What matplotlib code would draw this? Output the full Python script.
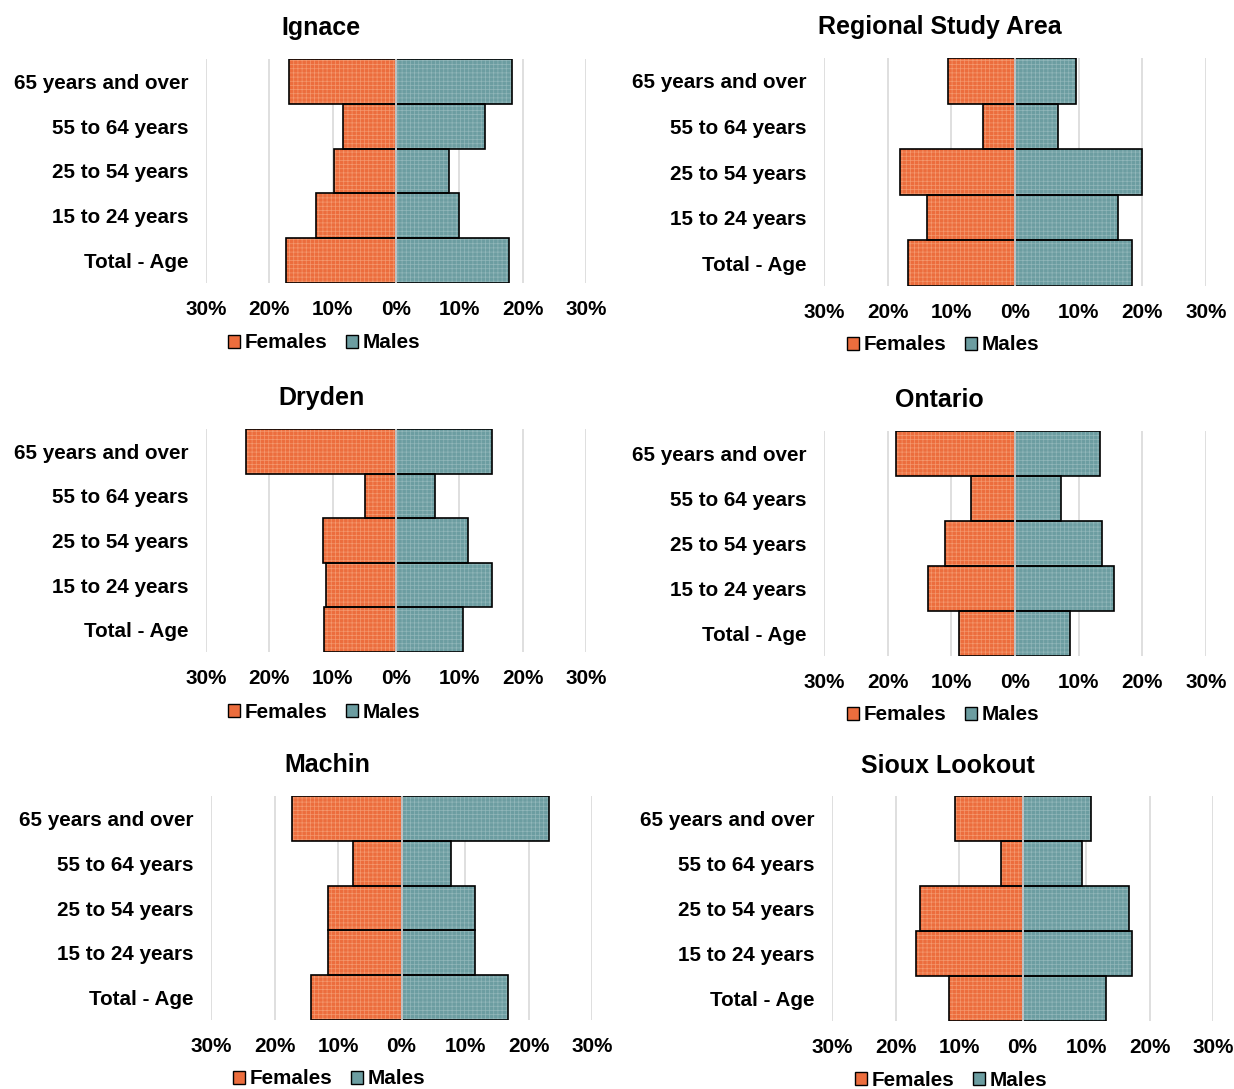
import matplotlib.pyplot as plt
from matplotlib.patches import Patch
from matplotlib.ticker import FuncFormatter

plt.rcParams["font.family"] = ["Liberation Sans", "DejaVu Sans"]
plt.rcParams["font.weight"] = "bold"
plt.rcParams["hatch.linewidth"] = 0.5

# Age groups, top to bottom
age_groups = ["65 years and over", "55 to 64 years", "25 to 54 years",
              "15 to 24 years", "Total - Age"]

ignace_f = [16.9, 8.4, 9.8, 12.7, 17.3]
ignace_m = [18.3, 14.1, 8.4, 9.9, 17.9]
regional_f = [10.6, 5.1, 18.0, 13.9, 16.8]
regional_m = [9.6, 6.7, 19.9, 16.2, 18.4]
dryden_f = [23.7, 4.9, 11.6, 11.0, 11.4]
dryden_m = [15.2, 6.1, 11.3, 15.2, 10.6]
ontario_f = [18.7, 6.9, 11.0, 13.6, 8.8]
ontario_m = [13.3, 7.3, 13.7, 15.6, 8.7]
machin_f = [17.3, 7.6, 11.5, 11.5, 14.2]
machin_m = [23.2, 7.8, 11.6, 11.6, 16.8]
sioux_f = [10.7, 3.4, 16.2, 16.7, 11.5]
sioux_m = [10.8, 9.4, 16.7, 17.2, 13.1]

titles = ["Ignace", "Regional Study Area", "Dryden", "Ontario", "Machin", "Sioux Lookout"]
females = [ignace_f, regional_f, dryden_f, ontario_f, machin_f, sioux_f]
males = [ignace_m, regional_m, dryden_m, ontario_m, machin_m, sioux_m]

# Panel placement in pixels: axes x0, x1, y0, y1, title centre, legend centre
layout = [
    (206, 586, 59, 283, 321, 28, 324, 343),
    (824, 1206, 58, 286, 940, 27, 943, 345),
    (206, 586, 429, 652, 321, 398, 324, 712),
    (824, 1206, 431, 656, 939, 400, 943, 715),
    (211, 592, 796, 1020, 327, 765, 329, 1079),
    (832, 1213, 796, 1021, 948, 766, 951, 1080),
]

W, H = 1234, 1089
F_COL, F_HATCH = "#EC6D3D", "#F4996F"
M_COL, M_HATCH = "#6C9DA1", "#92B7BA"
FS = 14.9

fig = plt.figure(figsize=(W / 100, H / 100), dpi=100)

for title, f, m, (x0, x1, y0, y1, tx, ty, lx, ly) in zip(titles, females, males, layout):
    ax = fig.add_axes([x0 / W, 1 - y1 / H, (x1 - x0) / W, (y1 - y0) / H])
    y = list(range(len(age_groups)))
    neg_f = [-v for v in f]
    # hatched fill first, then black outline
    ax.barh(y, neg_f, height=1.0, color=F_COL, edgecolor=F_HATCH, hatch="++++", linewidth=0, zorder=2)
    ax.barh(y, m, height=1.0, color=M_COL, edgecolor=M_HATCH, hatch="++++", linewidth=0, zorder=2)
    ax.barh(y, neg_f, height=1.0, fill=False, edgecolor="black", linewidth=1.2, zorder=3)
    ax.barh(y, m, height=1.0, fill=False, edgecolor="black", linewidth=1.2, zorder=3)
    ax.axvline(0, color="#E6E6E6", linewidth=1.2, zorder=4)

    ax.set_xlim(-30, 30)
    ax.set_ylim(len(age_groups) - 0.5, -0.5)
    ax.set_xticks([-30, -20, -10, 0, 10, 20, 30])
    ax.xaxis.set_major_formatter(FuncFormatter(lambda v, p: f"{abs(v):.0f}%"))
    ax.set_yticks(y)
    ax.set_yticklabels(age_groups)
    ax.tick_params(axis="x", length=0, pad=12, labelsize=FS)
    ax.tick_params(axis="y", length=0, pad=12.5, labelsize=FS)
    ax.grid(axis="x", color="#D9D9D9", linewidth=1.2, zorder=0)
    ax.set_axisbelow(True)
    for s in ax.spines.values():
        s.set_visible(False)

    fig.text(tx / W, 1 - ty / H, title, ha="center", va="center", fontsize=18, fontweight="bold")

    handles = [
        Patch(facecolor=F_COL, edgecolor="black", linewidth=1.0, label="Females"),
        Patch(facecolor=M_COL, edgecolor="black", linewidth=1.0, label="Males"),
    ]
    fig.legend(handles=handles, loc="center", bbox_to_anchor=(lx / W, 1 - ly / H), ncol=2,
               frameon=False, fontsize=FS, handlelength=0.6, handleheight=0.6,
               handletextpad=0.2, columnspacing=0.9, borderpad=0)

fig.savefig("out.png", dpi=100)
plt.close(fig)
